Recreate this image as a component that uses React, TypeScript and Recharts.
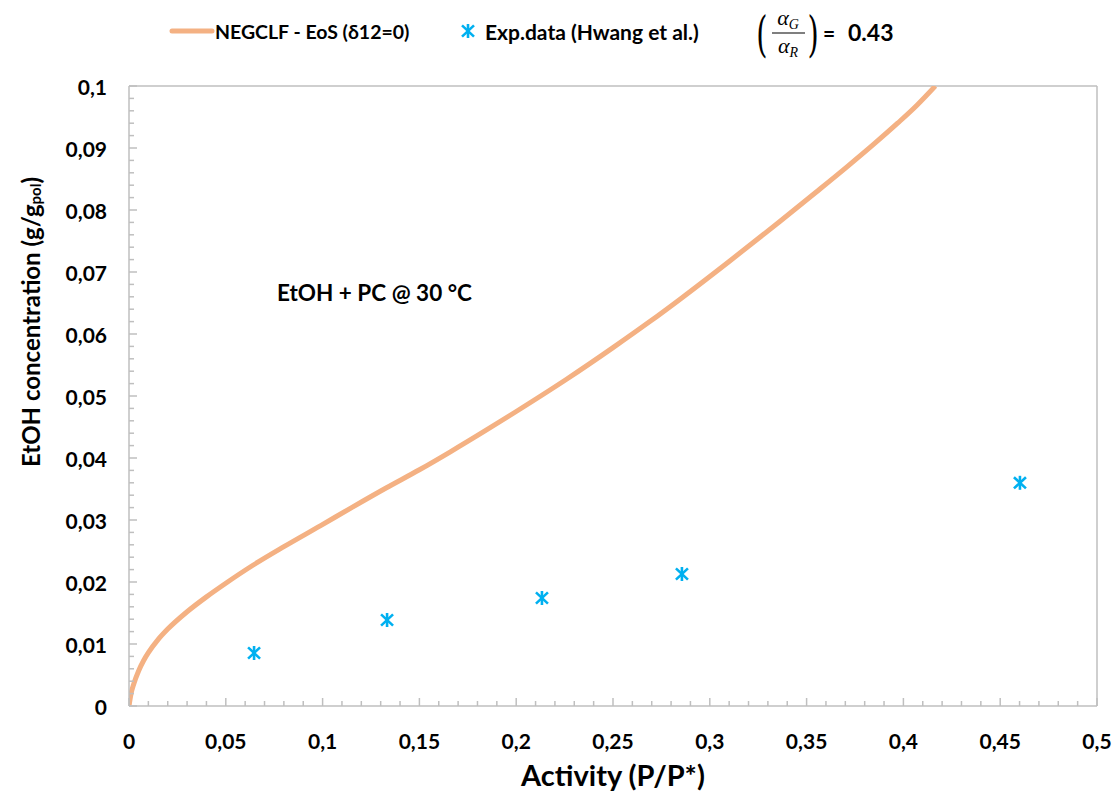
import React from 'react';
import {
  ComposedChart,
  Line,
  Scatter,
  XAxis,
  YAxis,
  ReferenceLine,
} from 'recharts';

// Model curve: NEGCLF - EoS (δ12=0)
const curveX = [0, 0.001, 0.0025, 0.005, 0.0075, 0.01, 0.015, 0.02, 0.03, 0.04, 0.05, 0.064, 0.08, 0.099, 0.115, 0.133, 0.15, 0.166, 0.183, 0.2, 0.226, 0.25, 0.269, 0.285, 0.31, 0.336, 0.355, 0.371, 0.385, 0.397, 0.407, 0.4165];
const curveY = [0, 0.0019, 0.0036, 0.0057, 0.0073, 0.0086, 0.0107, 0.0124, 0.0152, 0.0176, 0.0198, 0.0227, 0.0257, 0.0291, 0.032, 0.0352, 0.0381, 0.041, 0.0442, 0.0475, 0.0527, 0.0578, 0.062, 0.0657, 0.0717, 0.0781, 0.0829, 0.087, 0.0907, 0.094, 0.0969, 0.1];

// Experimental data (Hwang et al.)
const expX = [0.0646, 0.1333, 0.2133, 0.2856, 0.4602];
const expY = [0.00855, 0.01387, 0.01742, 0.02129, 0.036];

// Major tick labels
const xMajorTicks = [0, 0.05, 0.1, 0.15, 0.2, 0.25, 0.3, 0.35, 0.4, 0.45, 0.5];
const yMajorTicks = [0, 0.01, 0.02, 0.03, 0.04, 0.05, 0.06, 0.07, 0.08, 0.09, 0.1];

const curveData = curveX.map((x, i) => ({ x, y: curveY[i] }));
const expData = expX.map((x, i) => ({ x, y: expY[i] }));

const xAllTicks: number[] = [];
for (let i = 0; i <= 50; i++) xAllTicks.push(Number((i * 0.01).toFixed(4)));
const yAllTicks: number[] = [];
for (let i = 0; i <= 50; i++) yAllTicks.push(Number((i * 0.002).toFixed(4)));

const isMajor = (v: number, majors: number[]) => majors.some((m) => Math.abs(m - v) < 1e-9);
const fmt = (v: number) => String(v).replace('.', ',');

const FONT = 'Lato, "Open Sans", sans-serif';
const AXIS_COLOR = '#BFBFBF';
const CURVE_COLOR = '#F4B183';
const EXP_COLOR = '#00B0F0';

const XTick = (props: any) => {
  const { x, y, payload } = props;
  const major = isMajor(payload.value, xMajorTicks);
  return (
    <g>
      <line x1={x} x2={x} y1={y} y2={y - (major ? 8 : 5)} stroke={AXIS_COLOR} strokeWidth={1.5} />
      {major && (
        <text x={x} y={y + 34} textAnchor="middle" dominantBaseline="central" fontFamily={FONT} fontWeight={700} fontSize={21} fill="#000">
          {fmt(payload.value)}
        </text>
      )}
    </g>
  );
};

const YTick = (props: any) => {
  const { x, y, payload } = props;
  const major = isMajor(payload.value, yMajorTicks);
  return (
    <g>
      <line x1={x} x2={x + (major ? 8 : 5)} y1={y} y2={y} stroke={AXIS_COLOR} strokeWidth={1.5} />
      {major && (
        <text x={x - 22} y={y} textAnchor="end" dominantBaseline="central" fontFamily={FONT} fontWeight={700} fontSize={21} fill="#000">
          {fmt(payload.value)}
        </text>
      )}
    </g>
  );
};

const starLines = (cx: number, cy: number) => {
  const r = 7;
  const dx = 6;
  const dy = 5.6;
  return (
    <g stroke={EXP_COLOR} strokeWidth={2.6} strokeLinecap="butt">
      <line x1={cx} y1={cy - r} x2={cx} y2={cy + r} />
      <line x1={cx - dx} y1={cy - dy} x2={cx + dx} y2={cy + dy} />
      <line x1={cx - dx} y1={cy + dy} x2={cx + dx} y2={cy - dy} />
    </g>
  );
};

const StarMarker = (props: any) => {
  const { cx, cy } = props;
  if (cx == null || cy == null) return null;
  return starLines(cx, cy);
};

const Overlay = () => {
  return (
    <svg width={1115} height={794} style={{ position: 'absolute', left: 0, top: 0, pointerEvents: 'none' }}>
      {/* Legend */}
      <line x1={172} x2={212} y1={31} y2={31} stroke={CURVE_COLOR} strokeWidth={5} strokeLinecap="round" />
      <text x={215} y={31} dominantBaseline="central" fontFamily={FONT} fontWeight={700} fontSize={19.5} fill="#000">
        NEGCLF - EoS (δ12=0)
      </text>
      {starLines(468, 31)}
      <text x={485} y={31} dominantBaseline="central" fontFamily={FONT} fontWeight={700} fontSize={21} fill="#000">
        Exp.data (Hwang et al.)
      </text>
      {/* Formula */}
      <text x={762} y={34} textAnchor="middle" dominantBaseline="central" fontFamily='"DejaVu Serif", serif' fontSize={48} fill="#000" transform="translate(762,34) scale(0.6,1) translate(-762,-34)">(</text>
      <text x={813} y={34} textAnchor="middle" dominantBaseline="central" fontFamily='"DejaVu Serif", serif' fontSize={48} fill="#000" transform="translate(813,34) scale(0.6,1) translate(-813,-34)">)</text>
      <text x={788} y={25} textAnchor="middle" fontFamily='"Liberation Serif", serif' fontStyle="italic" fontSize={22} fill="#000">
        α<tspan fontSize={14} dy={4}>G</tspan>
      </text>
      <line x1={772} x2={805} y1={33} y2={33} stroke="#000" strokeWidth={1.2} />
      <text x={788} y={53} textAnchor="middle" fontFamily='"Liberation Serif", serif' fontStyle="italic" fontSize={22} fill="#000">
        α<tspan fontSize={14} dy={4}>R</tspan>
      </text>
      <text x={823} y={32} dominantBaseline="central" fontFamily={FONT} fontWeight={700} fontSize={21} fill="#000">=</text>
      <text x={848} y={32} dominantBaseline="central" fontFamily={FONT} fontWeight={700} fontSize={23} fill="#000">0.43</text>
      {/* Annotation */}
      <text x={277} y={292} dominantBaseline="central" fontFamily={FONT} fontWeight={700} fontSize={22.5} fill="#000">
        EtOH + PC @ 30 °C
      </text>
      {/* Axis titles */}
      <text x={613} y={774} textAnchor="middle" dominantBaseline="central" fontFamily={FONT} fontWeight={700} fontSize={29} fill="#000">
        Activity (P/P*)
      </text>
      <text transform="translate(30,322) rotate(-90)" textAnchor="middle" dominantBaseline="central" fontFamily={FONT} fontWeight={700} fontSize={24} fill="#000">
        EtOH concentration (g/g<tspan fontSize={15} dy={5}>pol</tspan><tspan dy={-5}>)</tspan>
      </text>
    </svg>
  );
};

export default function App() {
  return (
    <div style={{ position: 'absolute', left: 0, top: 0, width: 1115, height: 794, background: '#fff' }}>
      <ComposedChart
        width={1115}
        height={794}
        margin={{ top: 86, right: 18, bottom: 28, left: 69 }}
        style={{ fontFamily: FONT }}
      >
        <XAxis
          type="number"
          dataKey="x"
          domain={[0, 0.5]}
          ticks={xAllTicks}
          interval={0}
          allowDataOverflow
          height={60}
          tickSize={0}
          tickMargin={0}
          tickLine={false}
          axisLine={{ stroke: AXIS_COLOR, strokeWidth: 1.5 }}
          tick={<XTick />}
        />
        <YAxis
          type="number"
          dataKey="y"
          domain={[0, 0.1]}
          ticks={yAllTicks}
          interval={0}
          allowDataOverflow
          width={60}
          tickSize={0}
          tickMargin={0}
          tickLine={false}
          axisLine={{ stroke: AXIS_COLOR, strokeWidth: 1.5 }}
          tick={<YTick />}
        />
        <ReferenceLine y={0.1} stroke={AXIS_COLOR} strokeWidth={1.5} />
        <ReferenceLine x={0.5} stroke={AXIS_COLOR} strokeWidth={1.5} />
        <Line
          data={curveData}
          dataKey="y"
          type="monotone"
          stroke={CURVE_COLOR}
          strokeWidth={5}
          dot={false}
          activeDot={false}
          isAnimationActive={false}
        />
        <Scatter data={expData} dataKey="y" fill={EXP_COLOR} shape={<StarMarker />} isAnimationActive={false} />
      </ComposedChart>
      <Overlay />
    </div>
  );
}
